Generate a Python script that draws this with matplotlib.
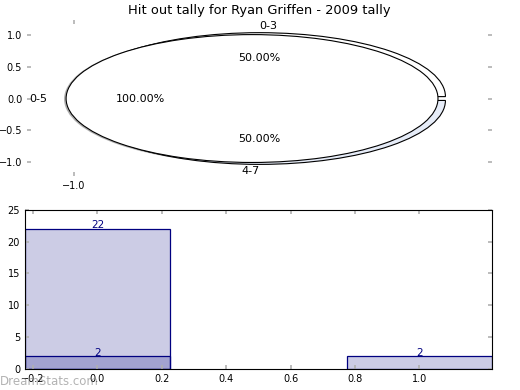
import matplotlib
matplotlib.use('Agg')
import matplotlib.pyplot as plt
from matplotlib.ticker import FuncFormatter

# datos del gráfico
titulo = 'Hit out tally for Ryan Griffen - 2009 tally'
outer_labels = ['0-3', '4-7']  # pastel exterior
outer_values = [2, 2]
inner_labels = ['0-5']  # pastel interior
inner_values = [2]
bar_pos = [0, 1]
bar_values = [22, 2]  # primera serie de barras
bar2_pos = [0]
bar2_values = [2]  # segunda serie, encima
xticks_bar = [-0.2, 0.0, 0.2, 0.4, 0.6, 0.8, 1.0]

plt.rcParams['font.family'] = 'DejaVu Sans'
tick_gris = '#b0b0b0'
fmt = FuncFormatter(lambda v, pos: f'{v:.1f}'.replace('-', '\u2212'))  # signo menos largo

fig = plt.figure(figsize=(5.2, 3.9), dpi=100)

# ---- pasteles arriba ----
ax1 = fig.add_axes([0.052, 0.549, 0.894, 0.40])
w, t, p = ax1.pie(outer_values, labels=outer_labels, colors=['white', '#e6ecf8'],
                  explode=[0.03, 0.03], autopct='%1.2f%%', startangle=0,
                  wedgeprops={'edgecolor': 'black', 'linewidth': 0.8},
                  textprops={'fontsize': 8})
t[0].set_ha('left')
t[1].set_ha('right')
ax1.pie(inner_values, labels=inner_labels, colors=['white'], center=(-0.04, 0),
        autopct='%1.2f%%', startangle=0,
        shadow={'ox': -0.006, 'oy': -0.006, 'shade': 0.5},
        wedgeprops={'edgecolor': 'black', 'linewidth': 0.8},
        textprops={'fontsize': 8})
ax1.set_aspect('auto')
ax1.set_frame_on(False)
ax1.set_xlim(-1.25, 1.25)
ax1.set_ylim(-1.21, 1.23)
ax1.set_xticks([-1.0])
ax1.set_yticks([-1.0, -0.5, 0.0, 0.5, 1.0])
ax1.xaxis.set_major_formatter(fmt)
ax1.yaxis.set_major_formatter(fmt)
ax1.tick_params(direction='in', length=3, width=1.2, color=tick_gris,
                labelsize=7, top=True, right=True)
ax1.set_title(titulo, fontsize=9.4, pad=4)

# ---- barras abajo ----
ax2 = fig.add_axes([0.048, 0.054, 0.898, 0.408])
b1 = ax2.bar(bar_pos, bar_values, width=0.45, color='navy', alpha=0.2)
ax2.bar(bar_pos, bar_values, width=0.45, fill=False, edgecolor='navy', linewidth=0.9)
b2 = ax2.bar(bar2_pos, bar2_values, width=0.45, color='navy', alpha=0.2)
ax2.bar(bar2_pos, bar2_values, width=0.45, fill=False, edgecolor='navy', linewidth=0.9)
ax2.bar_label(b1, color='navy', fontsize=7.5, padding=-1)
ax2.bar_label(b2, color='navy', fontsize=7.5, padding=-1)
ax2.set_xlim(-0.225, 1.225)
ax2.set_ylim(0, 25)
ax2.set_xticks(xticks_bar)
ax2.set_yticks([0, 5, 10, 15, 20, 25])
ax2.xaxis.set_major_formatter(fmt)
ax2.tick_params(direction='in', length=3, width=1.2, color=tick_gris,
                labelsize=7, top=True, right=True)

# marca de agua
fig.text(0.0, 0.012, 'DreamStats.com', fontsize=8.5, color='gray', alpha=0.6)

plt.savefig('out.png', dpi=100)
